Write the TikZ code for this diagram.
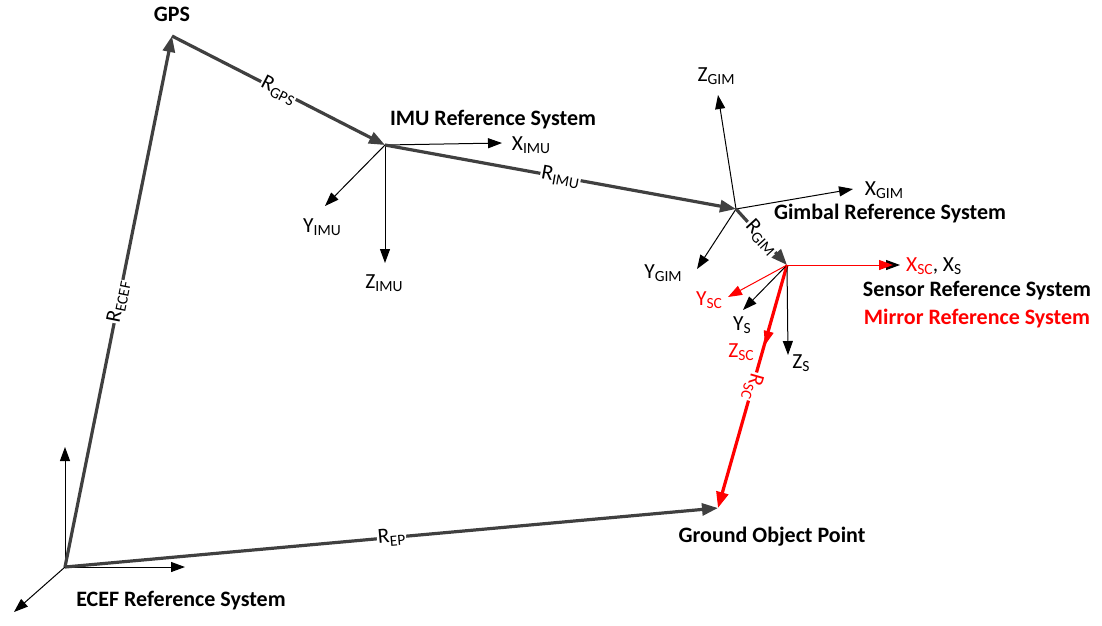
\documentclass[tikz,border=0pt]{standalone}
\usepackage{fontspec}
\setmainfont{Carlito}
\usetikzlibrary{positioning,arrows.meta}
\definecolor{vecgray}{RGB}{64,64,64}
\definecolor{mirred}{RGB}{255,0,0}
\newcommand{\sbs}[1]{\raisebox{-0.35ex}{\fontsize{15.5}{16}\selectfont #1}}

\begin{document}
\begin{tikzpicture}[x=1pt,y=-1pt,
  vec/.style={draw=vecgray,line width=3.2pt,-{Triangle[length=16pt,width=12pt]}},
  ax/.style={line width=1pt,-{Triangle[length=14pt,width=10pt]}},
  sys/.style={font=\fontsize{22}{24}\selectfont\bfseries},
  axl/.style={font=\fontsize{21.5}{24}\selectfont,inner sep=1pt},
  onvec/.style={fill=white,inner sep=1pt,sloped,pos=0.5,font=\fontsize{21.5}{24}\selectfont}]
\useasboundingbox (0,0) rectangle (1102,625);

% frame origins
\coordinate (ecef) at (65,567);
\coordinate (gps) at (172,36);
\coordinate (imu) at (385,145);
\coordinate (gim) at (736,209);
\coordinate (sen) at (787,265);
\coordinate (gop) at (718,508);

% axis tips
\coordinate (ecefz) at (65,447);
\coordinate (ecefx) at (185,567);
\coordinate (ecefy) at (14,612);
\coordinate (imux) at (502,143);
\coordinate (imuy) at (325,206);
\coordinate (imuz) at (385,263);
\coordinate (gimx) at (853,189);
\coordinate (gimy) at (697,269);
\coordinate (gimz) at (718,95);
\coordinate (senx) at (900,265);
\coordinate (sey) at (743,310);
\coordinate (sez) at (788,355);
\coordinate (scx) at (893,265);
\coordinate (scy) at (728,297);
\coordinate (scz) at (765,345);

% ECEF axes
\draw[ax] (ecef) -- (ecefz);
\draw[ax] (ecef) -- (ecefx);
\draw[ax] (ecef) -- (ecefy);

% IMU axes
\draw[ax] (imu) -- (imux);
\draw[ax] (imu) -- (imuy);
\draw[ax] (imu) -- (imuz);
\draw node (imuxl) at (531,145) [axl]{X\sbs{IMU}};
\draw node (imuyl) at (322,227) [axl]{Y\sbs{IMU}};
\draw node (imuzl) at (384,283) [axl]{Z\sbs{IMU}};

% gimbal axes
\draw[ax] (gim) -- (gimx);
\draw[ax] (gim) -- (gimy);
\draw[ax] (gim) -- (gimz);
\draw node (gimxl) at (884,190) [axl]{X\sbs{GIM}};
\draw node (gimyl) at (663,273) [axl]{Y\sbs{GIM}};
\draw node (gimzl) at (716,76) [axl]{Z\sbs{GIM}};

% lever arms
\draw[vec] (ecef) -- (gps) node[onvec]{R\sbs{ECEF}};
\draw[vec] (gps) -- (imu) node[onvec]{R\sbs{GPS}};
\draw[vec] (imu) -- (gim) node[onvec]{R\sbs{IMU}};
\draw[vec] (gim) -- (sen) node[onvec]{R\sbs{GIM}};
\draw[vec] (ecef) -- (gop) node[onvec]{R\sbs{EP}};
\draw[vec,draw=mirred,mirred] (sen) -- (gop)
  node[onvec,allow upside down,text=mirred]{R\sbs{SC}};

% sensor and mirror axes
\draw[ax] (sen) -- (senx);
\draw[ax] (sen) -- (sey);
\draw[ax] (sen) -- (sez);
\draw[ax,mirred] (sen) -- (scx);
\draw[ax,mirred] (sen) -- (scy);
\draw[ax,mirred] (sen) -- (scz);
\draw node (xl) at (905,266) [axl,anchor=west]{\textcolor{mirred}{X\sbs{SC}}, X\sbs{S}};
\draw node (seyl) at (742,325) [axl]{Y\sbs{S}};
\draw node (sezl) at (801,363) [axl]{Z\sbs{S}};
\draw node (scyl) at (709,300) [axl,text=mirred]{Y\sbs{SC}};
\draw node (sczl) at (741,352) [axl,text=mirred]{Z\sbs{SC}};

% system names
\draw node (gpsl) at (172,14) [sys]{GPS};
\draw node (imul) at (493,120) [sys]{IMU Reference System};
\draw node (giml) at (890,214) [sys]{Gimbal Reference System};
\draw node (senl) at (977,291) [sys]{Sensor Reference System};
\draw node (mirl) at (977,319) [sys,text=mirred]{Mirror Reference System};
\draw node (gopl) at (772,537) [sys]{Ground Object Point};
\draw node (ecefl) at (181,601) [sys]{ECEF Reference System};
\end{tikzpicture}
\end{document}
